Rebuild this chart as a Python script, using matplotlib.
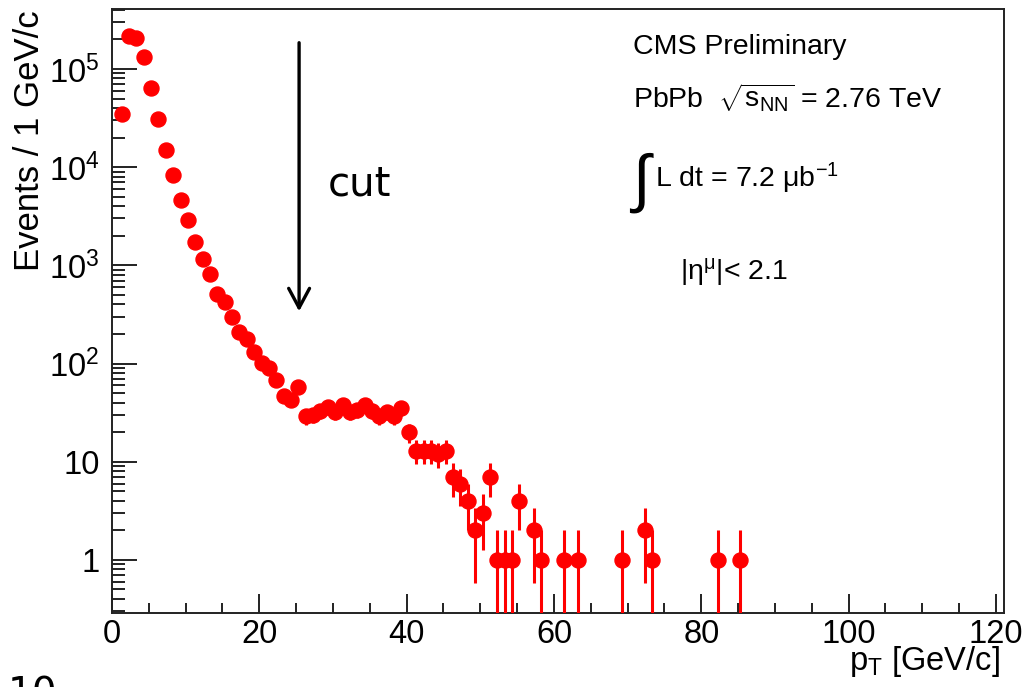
import numpy as np
import matplotlib
matplotlib.use('Agg')
import matplotlib.pyplot as plt
from matplotlib.ticker import MultipleLocator, LogLocator, FuncFormatter, NullFormatter

plt.rcParams['font.family'] = ['Liberation Sans', 'DejaVu Sans']
plt.rcParams['mathtext.fontset'] = 'custom'
plt.rcParams['mathtext.rm'] = 'Liberation Sans'
plt.rcParams['mathtext.it'] = 'Liberation Sans:italic'
plt.rcParams['mathtext.bf'] = 'Liberation Sans:bold'

# ---- data (bin positions in GeV/c, event counts per 1 GeV/c) ----
pt = [1.3, 2.3, 3.3, 4.3, 5.3, 6.3, 7.3, 8.3, 9.3, 10.3,
      11.3, 12.3, 13.3, 14.3, 15.3, 16.3, 17.3, 18.3, 19.3, 20.3,
      21.3, 22.3, 23.3, 24.3, 25.3, 26.3, 27.3, 28.3, 29.3, 30.3,
      31.3, 32.3, 33.3, 34.3, 35.3, 36.3, 37.3, 38.3, 39.3, 40.3,
      41.3, 42.3, 43.3, 44.3, 45.3, 46.3, 47.3, 48.3, 49.3, 50.3,
      51.3, 52.3, 53.3, 54.3, 55.3, 57.3, 58.3, 61.3, 63.3, 69.3,
      72.3, 73.3, 82.3, 85.3]
counts = [35000, 217000, 208000, 132000, 64500, 30700, 15000, 8260, 4640, 2900,
          1740, 1150, 817, 508, 421, 300, 211, 177, 132, 101,
          91, 68, 47, 43, 58, 29, 30, 33, 36, 32,
          38, 32, 34, 38, 33, 29, 32, 29, 35, 20,
          13, 13, 13, 12, 13, 7, 6, 4, 2, 3,
          7, 1, 1, 1, 4, 2, 1, 1, 1, 1,
          2, 1, 1, 1]

x_ticklabels_step = 20
y_major = [1, 10, 100, 1e3, 1e4, 1e5]

W, H = 1029, 687
fig = plt.figure(figsize=(W / 100, H / 100), dpi=100)
ax = fig.add_axes([112 / W, 1 - 612.7 / H, (1004 - 112) / W, (612.7 - 9) / H])

cnt = np.array(counts, dtype=float)
err_up = np.sqrt(cnt)
err_lo = np.minimum(np.sqrt(cnt), cnt * 0.9999)

ax.errorbar(pt, cnt, yerr=[err_lo, err_up], fmt='o', color='#ff0000',
            ms=10.8, mec='#ff0000', elinewidth=2.2, capsize=0, zorder=3)

ax.set_yscale('log')
ax.set_xlim(0, 121.1)
ax.set_ylim(0.29, 4.08e5)

ax.xaxis.set_major_locator(MultipleLocator(x_ticklabels_step))
ax.xaxis.set_minor_locator(MultipleLocator(5))
ax.yaxis.set_major_locator(LogLocator(base=10, numticks=20))
ax.yaxis.set_minor_locator(LogLocator(base=10, subs=np.arange(2, 10), numticks=50))
ax.yaxis.set_minor_formatter(NullFormatter())


def yfmt(v, pos):
    e = int(round(np.log10(v)))
    if e == 0:
        return '1'
    if e == 1:
        return '10'
    return r'$\mathregular{10^{%d}}$' % e


ax.yaxis.set_major_formatter(FuncFormatter(yfmt))
ax.xaxis.set_major_formatter(FuncFormatter(lambda v, p: '%d' % v))

ax.tick_params(which='both', direction='in', top=False, right=False,
               color='#222222', width=1.4, labelsize=23.5)
ax.tick_params(axis='x', which='major', length=13.7, pad=4.5)
ax.tick_params(axis='x', which='minor', length=7.2)
ax.tick_params(axis='y', which='major', length=18, pad=9)
ax.tick_params(axis='y', which='minor', length=9.4)
for s in ax.spines.values():
    s.set_linewidth(1.4)
    s.set_color('#222222')

# axis titles
fig.text(1000 / W, 1 - 670 / H, r'p$_{\mathregular{T}}$ [GeV/c]', ha='right',
         va='baseline', fontsize=23.5)
fig.text(30 / W, 1 - 10 / H, 'Events / 1 GeV/c', rotation=90, ha='center',
         va='top', fontsize=25)

# cut arrow
ax.annotate('', xy=(25.4, 340), xytext=(25.4, 1.85e5),
            arrowprops=dict(arrowstyle='->,head_length=1.4,head_width=0.75',
                            lw=2.4, color='black', shrinkA=0, shrinkB=0))
fig.text(328 / W, 1 - 195 / H, 'cut', family='DejaVu Sans', fontsize=29,
         va='baseline', ha='left')

# annotations
fs = 20.5
fig.text(633 / W, 1 - 53.5 / H, 'CMS Preliminary', fontsize=fs, va='baseline')
fig.text(633 / W, 1 - 107 / H, r'PbPb  $\sqrt{\mathregular{s_{NN}}}$ = 2.76 TeV',
         fontsize=fs, va='baseline')
fig.text(632 / W, 1 - 200 / H, '∫', fontsize=46, va='baseline')
fig.text(655 / W, 1 - 187 / H, r'L dt = 7.2 μb$^{\mathregular{-1}}$', fontsize=fs,
         va='baseline')
fig.text(680 / W, 1 - 280 / H, r'|η$^{\mathregular{μ}}$|< 2.1', fontsize=fs,
         va='baseline')

# slide number, cut off at the bottom
fig.text(8 / W, 1 - 705 / H, '10', family='DejaVu Sans', fontsize=28,
         va='baseline', ha='left')

fig.savefig('out.png', dpi=100)
